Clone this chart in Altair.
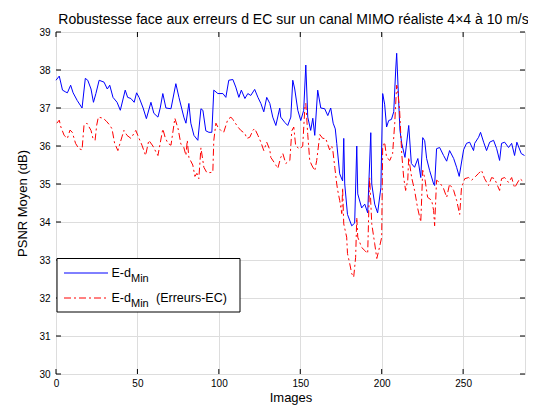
import altair as alt
import pandas as pd

TITLE = "Robustesse face aux erreurs d EC sur un canal MIMO réaliste 4×4 à 10 m/s"
X_TITLE = "Images"
Y_TITLE = "PSNR Moyen (dB)"
X_TICKS = [0, 50, 100, 150, 200, 250]
Y_TICKS = [30, 31, 32, 33, 34, 35, 36, 37, 38, 39]
X_DOMAIN = [0, 288]
Y_DOMAIN = [30, 39]
LEGEND_MAIN = ["E-d", "E-d"]
LEGEND_SUB = ["Min", "Min"]
LEGEND_SUFFIX = ["", "(Erreurs-EC)"]

blue_frames = [0, 2, 4, 6, 7, 9, 10.5, 13, 16, 18, 19.5, 21.5, 23, 24.5, 26.5, 29.5, 31.5, 33, 35, 37.5,
               39.5, 42.5, 44, 46, 48, 49.5, 51, 53.5, 55.5, 58.3, 60.1, 62.6, 64, 65.6, 67.5, 70.6, 73.6, 75.5, 78.5, 79.8,
               81.6, 82.8, 84.7, 87.1, 89, 90.2, 92, 93.9, 95.7, 96.9, 99.4, 102.5, 104.3, 106.1, 108.6, 110.4, 112.3, 113.8, 116, 117.8,
               119.6, 122, 124, 125.8, 127.6, 129.4, 131.3, 133.1, 135, 137.4, 138, 140.5, 142.3, 144.2, 145.4, 146.6, 148.5, 150.3, 152.1, 153.4,
               154.6, 156.4, 157.7, 158.9, 160.7, 162.6, 165, 166.9, 168.7, 170.2, 171.5, 172.4, 174.2, 176, 176.7, 177.3, 179, 181.6, 183.4, 184.7,
               185.3, 187.7, 189.6, 191.4, 193.3, 193.9, 195.7, 197.5, 199.5, 200.6, 201.8, 203, 204.3, 206, 207.4, 208.6, 209.2, 210.4, 211.2, 212.3,
               214.3, 216.6, 218.2, 220.2, 222.2, 224, 225.2, 226.4, 227.6, 229.4, 231.9, 232.5, 233.7, 235.6, 238, 239.9, 241.7, 244.2, 246, 247.6,
               250.3, 252.1, 254, 256.4, 257.1, 259.5, 260.7, 262.6, 264.4, 266.3, 268.7, 270.6, 272.4, 273.6, 275.5, 277.9, 279.8, 281.6, 283, 285.7,
               287.7]
blue_psnr = [37.73, 37.84, 37.47, 37.42, 37.40, 37.60, 37.40, 37.20, 37.00, 37.78, 37.73, 37.50, 37.15, 37.38, 37.73, 37.68, 37.50, 37.60, 37.28, 37.15,
             36.94, 37.47, 37.28, 37.25, 37.15, 37.40, 37.28, 37.00, 36.72, 37.15, 36.86, 36.76, 37.00, 37.38, 37.00, 36.98, 37.64, 37.28, 36.76, 36.60,
             37.12, 36.60, 36.28, 36.15, 36.98, 36.94, 36.40, 36.36, 36.36, 37.47, 37.38, 37.38, 37.28, 37.73, 37.75, 37.55, 37.28, 37.47, 37.25, 37.38,
             37.33, 37.49, 37.28, 37.12, 36.90, 37.28, 37.12, 36.76, 36.54, 37.00, 36.76, 36.62, 36.54, 36.76, 37.73, 37.50, 36.94, 36.67, 36.94, 38.13,
             36.76, 36.41, 36.73, 36.28, 37.47, 37.00, 36.98, 36.80, 37.00, 36.60, 36.45, 36.07, 35.27, 35.08, 36.20, 35.00, 34.20, 33.90, 33.97, 36.00,
             34.74, 34.37, 34.47, 34.24, 36.35, 35.00, 34.47, 34.24, 34.90, 37.38, 37.10, 36.50, 36.67, 36.70, 36.90, 38.00, 38.44, 37.20, 36.42, 36.07,
             35.70, 36.54, 35.54, 35.44, 35.67, 35.17, 36.22, 36.14, 35.67, 35.36, 35.00, 34.96, 35.93, 35.96, 35.75, 35.60, 35.88, 35.67, 35.44, 35.20,
             35.90, 36.07, 36.10, 35.88, 36.07, 36.23, 36.36, 36.10, 35.88, 36.10, 36.15, 35.93, 35.62, 36.07, 36.10, 35.96, 36.07, 35.75, 36.10, 35.80,
             35.75]

red_frames = [0.5, 2, 3, 5, 7, 8.6, 10, 12, 14, 16, 17.2, 19, 21.5, 22.7, 24, 25, 26, 29, 31, 33,
              34.4, 36, 38, 40.5, 41.7, 43.6, 46, 49, 51, 52.8, 55, 57, 59.5, 61.3, 62.6, 65.6, 67, 68.7, 70.6, 73,
              75, 76.7, 78.5, 79.8, 80.6, 81.6, 84, 85.3, 86.5, 87.7, 89, 90.8, 92.6, 94.5, 96.3, 96.9, 98.2, 99.4, 101.2, 103,
              105.5, 107.4, 108.6, 111.7, 113.5, 116, 117.2, 119, 120.9, 122, 124, 125.8, 127.6, 129.4, 131.3, 131.9, 134.4, 136.2, 138, 139.3,
              141.1, 143.6, 144.8, 146, 147.2, 149.7, 151.5, 152.8, 153.4, 154.6, 155.8, 157, 158.9, 160.1, 162, 163.8, 165.6, 168, 169.3, 170,
              171.2, 172.4, 173, 174.2, 175.5, 176, 176.7, 178.5, 179, 180.4, 181.6, 182.8, 184, 184.7, 185.3, 187.7, 189.6, 191.4, 192.6, 193.9,
              195.7, 197, 198.2, 200, 200.6, 201.8, 203, 205, 206.7, 208, 209.2, 209.8, 211, 212.3, 213.5, 214.7, 216, 216.6, 218.4, 220.2,
              222, 224, 225.2, 226.4, 228.2, 230.7, 231.9, 232.5, 233.7, 235.6, 238, 239.9, 241.7, 244.2, 246, 247.9, 249, 251, 253.4, 255.2,
              257, 259.5, 261.3, 263.2, 265.6, 267.5, 269.3, 272.4, 273.6, 275.5, 277.9, 279.8, 281.6, 284.8, 287.7]
red_psnr = [36.60, 36.68, 36.50, 36.28, 36.20, 36.42, 36.36, 36.07, 35.93, 35.90, 36.55, 36.60, 36.41, 36.20, 36.15, 36.55, 36.76, 36.73, 36.65, 36.55,
            36.45, 36.07, 35.88, 36.24, 36.41, 36.28, 36.20, 36.41, 36.20, 36.02, 35.75, 36.15, 36.00, 35.85, 35.75, 36.45, 36.23, 36.07, 36.02, 36.73,
            36.45, 36.05, 35.96, 35.75, 36.15, 35.70, 35.50, 35.20, 35.28, 35.14, 35.95, 35.44, 35.30, 35.30, 35.31, 36.15, 36.60, 36.50, 36.41, 36.36,
            36.70, 36.76, 36.70, 36.50, 36.41, 36.33, 36.20, 36.23, 36.41, 36.46, 36.28, 36.10, 35.88, 36.10, 35.90, 35.70, 35.54, 35.41, 35.70, 35.80,
            35.54, 35.62, 36.40, 36.50, 36.00, 35.92, 36.00, 37.00, 37.12, 36.30, 35.62, 35.50, 35.35, 35.62, 36.30, 36.20, 36.20, 35.90, 36.00, 35.88,
            35.44, 35.00, 34.83, 34.57, 34.22, 34.90, 33.95, 33.60, 33.17, 32.90, 32.64, 32.55, 33.07, 34.12, 33.60, 33.33, 33.25, 33.17, 35.17, 33.95,
            33.43, 33.04, 33.25, 33.60, 35.96, 36.10, 35.70, 35.62, 35.80, 36.60, 37.60, 37.47, 36.94, 35.80, 35.17, 34.83, 35.10, 35.70, 35.17, 34.83,
            34.38, 34.00, 35.36, 35.17, 34.65, 34.57, 34.30, 33.90, 35.10, 35.04, 34.88, 34.65, 35.00, 34.83, 34.57, 34.20, 34.90, 35.14, 35.17, 35.10,
            35.17, 35.28, 35.36, 35.14, 34.96, 35.17, 35.14, 34.83, 35.14, 35.17, 35.04, 35.17, 34.90, 35.14, 35.04]

FONT = "Liberation Sans"
W, H = 469, 342

blue_df = pd.DataFrame({"frame": blue_frames, "psnr": blue_psnr})
red_df = pd.DataFrame({"frame": red_frames, "psnr": red_psnr})
xt_df = pd.DataFrame({"frame": X_TICKS})
yt_df = pd.DataFrame({"psnr": Y_TICKS})
one = pd.DataFrame({"k": [0]})

xscale = alt.Scale(domain=X_DOMAIN, nice=False, zero=False)
yscale = alt.Scale(domain=Y_DOMAIN, nice=False, zero=False)
xaxis = alt.Axis(values=X_TICKS, title=X_TITLE, grid=True, ticks=False, domain=False,
                 labelPadding=4, titlePadding=3, labelFlush=False, format="d",
                 titleFontWeight=400, titleFont=FONT, titleFontSize=13)
yaxis = alt.Axis(values=Y_TICKS, title=Y_TITLE, grid=True, ticks=False, domain=False,
                 labelPadding=6, titlePadding=9, labelFlush=False, format="d",
                 titleFontWeight=400, titleFont=FONT, titleFontSize=13)


def X():
    return alt.X("frame:Q", scale=xscale, axis=xaxis)


def Y():
    return alt.Y("psnr:Q", scale=yscale, axis=yaxis)


blue = alt.Chart(blue_df).mark_line(color="#0000FF", strokeWidth=1).encode(x=X(), y=Y())
red = alt.Chart(red_df).mark_line(color="#FF0000", strokeWidth=1, strokeDash=[7, 3, 2, 3]).encode(x=X(), y=Y())

xt_bottom = alt.Chart(xt_df).mark_rule(color="black").encode(x=X(), y=alt.value(H), y2=alt.value(H - 5))
xt_top = alt.Chart(xt_df).mark_rule(color="black").encode(x=X(), y=alt.value(0), y2=alt.value(5))
yt_left = alt.Chart(yt_df).mark_rule(color="black").encode(y=Y(), x=alt.value(0), x2=alt.value(5))
yt_right = alt.Chart(yt_df).mark_rule(color="black").encode(y=Y(), x=alt.value(W - 5), x2=alt.value(W))

leg_box = alt.Chart(one).mark_rect(fill="white", stroke="black", strokeWidth=1).encode(
    x=alt.value(1), x2=alt.value(184), y=alt.value(226.5), y2=alt.value(280))
leg_l1 = alt.Chart(one).mark_rule(color="#0000FF", strokeWidth=1).encode(
    x=alt.value(8), x2=alt.value(52), y=alt.value(241))
leg_l2 = alt.Chart(one).mark_rule(color="#FF0000", strokeWidth=1, strokeDash=[7, 3, 2, 3]).encode(
    x=alt.value(8), x2=alt.value(52), y=alt.value(266))


def txt(s, x, y, size, align="left"):
    return alt.Chart(one).mark_text(align=align, baseline="alphabetic", font=FONT, fontSize=size,
                                    color="black").encode(x=alt.value(x), y=alt.value(y), text=alt.value(s))


legend_texts = [
    txt(LEGEND_MAIN[0], 55.5, 245, 12.5), txt(LEGEND_SUB[0], 75, 250, 11),
    txt(LEGEND_MAIN[1], 55.5, 270, 12.5), txt(LEGEND_SUB[1], 75, 275, 11),
    txt(LEGEND_SUFFIX[1], 100, 270, 12.5),
]
title_text = txt(TITLE, W / 2 + 3, -8, 14, align="center")

chart = alt.layer(blue, red, xt_bottom, xt_top, yt_left, yt_right, leg_box, leg_l1, leg_l2,
                  *legend_texts, title_text).properties(
    width=W, height=H,
    autosize=alt.AutoSizeParams(type="none"),
    padding={"left": 48, "top": 24, "right": 3, "bottom": 32},
).configure_view(stroke="black", strokeWidth=1).configure_axis(
    labelFont=FONT, labelFontSize=12, labelColor="black",
    titleFont=FONT, titleFontSize=13, titleFontWeight=400, titleColor="black",
    gridColor="#000000", gridDash=[1, 2], gridOpacity=0.75, gridWidth=1,
).configure(background="white")

chart.save("out.html", embed_options={"renderer": "svg", "actions": False})
